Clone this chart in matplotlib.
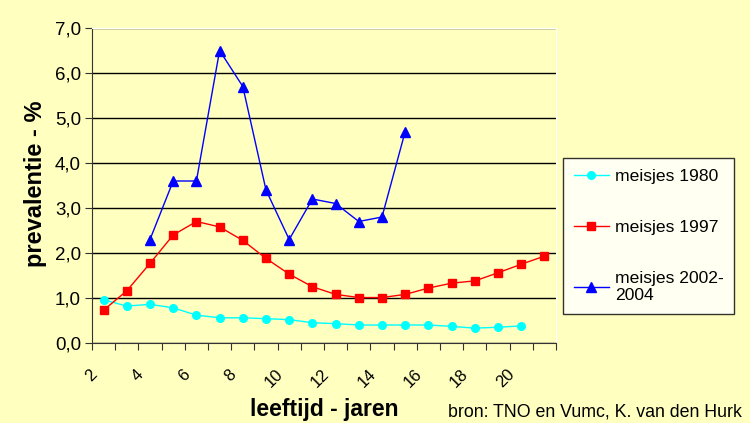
import numpy as np
import matplotlib
matplotlib.use("Agg")
import matplotlib.pyplot as plt
import matplotlib.transforms as mtransforms

plt.rcParams['font.family'] = ['Liberation Sans', 'DejaVu Sans']

# leeftijd in jaren (categorie-as)
ages = list(range(2, 22))
tick_ages = [2, 4, 6, 8, 10, 12, 14, 16, 18, 20]

# prevalentie in %
girls_1980 = [0.96, 0.82, 0.86, 0.78, 0.62, 0.56, 0.56, 0.54, 0.52, 0.45,
              0.43, 0.40, 0.40, 0.40, 0.40, 0.37, 0.33, 0.35, 0.38]
girls_1997 = [0.73, 1.16, 1.77, 2.40, 2.70, 2.58, 2.28, 1.88, 1.53, 1.25,
              1.08, 1.01, 1.01, 1.08, 1.22, 1.33, 1.38, 1.56, 1.75, 1.93]
ages_2002 = list(range(4, 16))
girls_2002 = [2.3, 3.6, 3.6, 6.5, 5.7, 3.4, 2.3, 3.2, 3.1, 2.7, 2.8, 4.7]

bg = '#FFFFC0'

fig = plt.figure(figsize=(7.5, 4.23), dpi=100, facecolor=bg)
ax = fig.add_axes([92 / 750, 1 - 343 / 423, (556 - 92) / 750, (343 - 28) / 423])
ax.set_facecolor(bg)

def pos(a_list):
    return [ages.index(a) for a in a_list]

ax.plot(pos(ages[:len(girls_1980)]), girls_1980, color='#00FFFF', marker='o',
        markersize=5.5, lw=1, label='meisjes 1980')
ax.plot(pos(ages), girls_1997, color='#FF0000', marker='s',
        markersize=6, lw=1, label='meisjes 1997')
ax.plot(pos(ages_2002), girls_2002, color='#0000FF', marker='^',
        markersize=7.5, lw=1, label='meisjes 2002-\n2004')

ax.set_ylim(0, 7)
ax.set_yticks(np.arange(0, 8, 1))
ax.set_yticklabels([f"{v:.1f}".replace('.', ',') for v in range(0, 8)], fontsize=13.5)
ax.yaxis.grid(True, color='black', lw=1)
ax.set_axisbelow(True)

ax.set_xlim(-0.5, len(ages) - 0.5)
ax.set_xticks(np.arange(-0.5, len(ages), 1))
ax.set_xticklabels([])
ax.set_xticks(pos(tick_ages), minor=True)
ax.set_xticklabels([str(a) for a in tick_ages], minor=True, rotation=45,
                   ha='right', va='top', rotation_mode='anchor', fontsize=12)
ax.tick_params(axis='x', which='minor', length=0, pad=17)
ax.tick_params(axis='x', which='major', length=5, color='#333333')
ax.tick_params(axis='y', length=5, color='#333333', pad=3)

shift = mtransforms.ScaledTranslation(-14 / 100, 0, fig.dpi_scale_trans)
for lbl in ax.get_xticklabels(minor=True):
    lbl.set_transform(lbl.get_transform() + shift)

for s in ['top', 'right']:
    ax.spines[s].set_color('white')
for s in ['left', 'bottom']:
    ax.spines[s].set_color('#333333')

fig.text(36 / 750, 1 - 184 / 423, 'prevalentie - %', fontsize=17,
         fontweight='bold', rotation=90, ha='center', va='center')
fig.text(324 / 750, 1 - 409 / 423, 'leeftijd - jaren', fontsize=16.5,
         fontweight='bold', ha='center', va='center')
fig.text(742 / 750, 1 - 412 / 423, 'bron: TNO en Vumc, K. van den Hurk',
         fontsize=12.8, ha='right', va='center')

leg = fig.legend(loc='upper left', bbox_to_anchor=(563 / 750, 1 - 158 / 423),
                 fontsize=12.6, frameon=True, fancybox=False, edgecolor='black',
                 labelspacing=2.05, handlelength=2.0, handletextpad=0.35,
                 borderpad=0.6, borderaxespad=0)
leg.get_frame().set_linewidth(1)

fig.savefig('out.png', dpi=100, facecolor=bg)
